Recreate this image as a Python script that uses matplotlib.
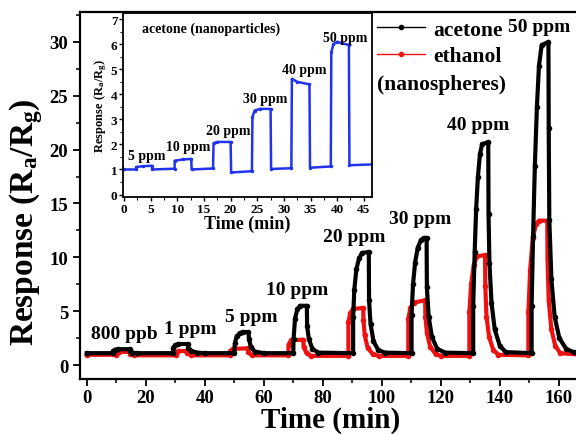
import matplotlib
matplotlib.use('Agg')
import matplotlib.pyplot as plt
from matplotlib.lines import Line2D
from matplotlib.ticker import MultipleLocator

plt.rcParams['font.family'] = ['Liberation Serif', 'DejaVu Serif']
plt.rcParams['font.weight'] = 'bold'
plt.rcParams['mathtext.fontset'] = 'custom'
plt.rcParams['mathtext.rm'] = 'Liberation Serif:bold'
plt.rcParams['mathtext.it'] = 'Liberation Serif:bold'
plt.rcParams['mathtext.bf'] = 'Liberation Serif:bold'

# acetone (nanospheres), black
acetone_t = [0, 8.9, 8.9, 9.6, 10.5, 14.5, 14.7, 15.5, 17,
             29.3, 29.3, 30.0, 31.0, 34.2, 34.4, 35.5, 37.5, 40,
             50.0, 50.2, 50.8, 51.8, 52.8, 54.8, 55.0, 55.6, 56.9, 60,
             70.0, 70.1, 70.6, 71.4, 72.3, 74.6, 74.7, 75.3, 76.5, 78.5,
             90.3, 90.3, 90.7, 91.4, 92.3, 93.3, 95.6, 95.7, 96.2, 97.2, 98.8, 101,
             110.1, 110.1, 110.6, 111.3, 112.2, 113.3, 114.2, 115.2, 115.3, 115.9, 117.0, 118.8, 121.5,
             131.0, 131.0, 131.5, 132.0, 132.6, 133.3, 134.0, 136.1, 136.2, 136.5, 137.2, 138.3, 140.0, 142.0,
             150.8, 150.8, 151.3, 151.9, 152.6, 153.3, 154.2, 156.5, 156.6, 156.8, 157.5, 158.6, 160.2, 162.5, 165, 168]
acetone_r = [1.1, 1.1, 1.3, 1.42, 1.47, 1.47, 1.3, 1.15, 1.1,
             1.1, 1.6, 1.85, 1.95, 1.95, 1.6, 1.3, 1.15, 1.1,
             1.1, 2.0, 2.65, 2.95, 3.06, 3.06, 2.4, 1.7, 1.25, 1.1,
             1.1, 2.4, 4.3, 5.2, 5.5, 5.5, 3.6, 2.4, 1.5, 1.15,
             1.1, 4.5, 7.0, 8.9, 9.9, 10.4, 10.5, 6.0, 3.8, 2.2, 1.4, 1.15,
             1.1, 4.6, 7.5, 9.5, 10.9, 11.6, 11.8, 11.8, 7.2, 4.5, 2.6, 1.5, 1.15,
             1.1, 5.5, 10.5, 14.5, 17.5, 19.6, 20.5, 20.7, 14.0, 9.5, 5.8, 3.3, 1.8, 1.2,
             1.1, 5.5, 12.0, 18.5, 24.0, 27.8, 29.7, 30.0, 22.0, 13.5, 8.0, 4.5, 2.5, 1.5, 1.2, 1.1]

# ethanol (nanospheres), red
ethanol_t = [0, 10.0, 10.1, 11, 14.5, 14.7, 16,
             30.3, 30.4, 31, 33.8, 34.0, 35.5,
             48.6, 48.7, 49.5, 54.5, 54.7, 56,
             68.3, 68.4, 69.3, 73.4, 73.5, 74.5, 76,
             88.7, 88.7, 89.3, 90.2, 93.7, 93.8, 94.2, 95.2, 97, 99,
             109.0, 109.0, 109.7, 110.8, 114.7, 114.8, 115.3, 116.4, 118.3, 120,
             129.7, 129.7, 130.3, 131.2, 132.3, 135.0, 135.1, 135.5, 136.4, 137.8, 139.5,
             149.7, 149.7, 150.3, 151.2, 152.3, 153.3, 156.1, 156.2, 156.6, 157.5, 158.8, 160.5, 168]
ethanol_r = [0.95, 0.95, 1.15, 1.22, 1.22, 1.05, 0.9,
             0.9, 1.15, 1.3, 1.3, 1.1, 0.9,
             0.9, 1.3, 1.5, 1.55, 1.2, 0.9,
             0.9, 1.9, 2.3, 2.35, 1.7, 1.1, 0.85,
             0.85, 4.0, 4.8, 5.2, 5.3, 4.2, 2.8, 1.6, 1.0, 0.85,
             0.85, 4.3, 5.3, 5.8, 6.0, 4.5, 3.0, 1.7, 1.0, 0.85,
             0.85, 4.9, 7.5, 9.3, 10.1, 10.2, 7.3, 4.5, 2.6, 1.4, 0.95,
             0.9, 4.9, 8.8, 11.8, 13.1, 13.4, 13.4, 9.8, 6.0, 3.3, 1.8, 1.1, 0.95]

main_labels = ['800 ppb', '1 ppm', '5 ppm', '10 ppm', '20 ppm', '30 ppm', '40 ppm', '50 ppm']
main_label_t = [12.6, 35, 55.7, 71.3, 90.6, 113, 132.6, 153.3]
main_label_r = [2.9, 3.35, 4.55, 7.05, 11.9, 13.65, 22.3, 31.4]

# inset: acetone (nanoparticles), blue
inset_t = [0, 2.3, 2.3, 3.5, 5.2, 5.3, 9.5, 9.5, 11, 12.6, 12.7, 16.7, 16.8, 17.5, 20.0, 20.1,
           24.0, 24.1, 24.5, 25.5, 27.5, 27.6, 31.4, 31.5, 32.5, 34.8, 34.9, 38.8, 38.9, 39.3,
           40, 42.2, 42.3, 46.5]
inset_r = [1.0, 1.0, 1.1, 1.13, 1.15, 1.0, 1.03, 1.35, 1.4, 1.42, 1.0, 1.04, 2.05, 2.1, 2.1, 0.88,
           0.93, 3.1, 3.35, 3.42, 3.42, 1.02, 1.05, 4.62, 4.5, 4.4, 1.07, 1.12, 5.7, 6.0,
           6.1, 5.97, 1.17, 1.2]

inset_labels = ['5 ppm', '10 ppm', '20 ppm', '30 ppm', '40 ppm', '50 ppm']
inset_label_t = [4.35, 12, 19.5, 26.4, 33.8, 41.5]
inset_label_r = [1.55, 1.9, 2.54, 3.85, 5.0, 6.27]

red = '#ee1111'
blue = '#2233ee'

fig = plt.figure(figsize=(5.76, 4.35), dpi=100)
ax = fig.add_axes([0.139, 0.1264, 0.871, 0.8437])

ax.plot(ethanol_t, ethanol_r, color=red, linewidth=3, marker='o', markersize=3)
ax.plot(acetone_t, acetone_r, color='black', linewidth=3, marker='o', markersize=3)

for lab, t, r in zip(main_labels, main_label_t, main_label_r):
    ax.text(t, r, lab, ha='center', va='center', fontsize=14, fontweight='bold')

ax.set_xlim(-2.27, 167.8)
ax.set_ylim(-1.3, 32.78)
ax.xaxis.set_major_locator(MultipleLocator(20))
ax.xaxis.set_minor_locator(MultipleLocator(10))
ax.yaxis.set_major_locator(MultipleLocator(5))
ax.yaxis.set_minor_locator(MultipleLocator(2.5))
ax.tick_params(which='major', direction='out', length=5, width=1.3, labelsize=13.5)
ax.tick_params(axis='x', which='major', pad=2)
ax.tick_params(which='minor', direction='out', length=3, width=1.1)
for s in ax.spines.values():
    s.set_linewidth(1.6)
ax.set_xlabel('Time (min)', fontsize=21, fontweight='bold', labelpad=0)
ax.set_ylabel('Response (R$_\\mathregular{a}$/R$_\\mathregular{g}$)', fontsize=24,
              fontweight='bold')
ax.yaxis.set_label_coords(-0.07, 0.43)

handles = [Line2D([], [], color='black', linewidth=1, marker='o', markersize=3),
           Line2D([], [], color=red, linewidth=1, marker='o', markersize=3)]
ax.legend(handles, ['acetone', 'ethanol'], loc='upper left', bbox_to_anchor=(0.655, 0.953),
          bbox_transform=fig.transFigure, frameon=False, fontsize=15.5, handlelength=2.2,
          handletextpad=0.4, labelspacing=0.3, borderaxespad=0, borderpad=0)
fig.text(0.655, 0.805, '(nanospheres)', ha='left', va='center', fontsize=15.5, fontweight='bold')

# inset
axi = fig.add_axes([0.2135, 0.5448, 0.432, 0.423])
axi.plot(inset_t, inset_r, color=blue, linewidth=1.8, marker='o', markersize=1.5)
for lab, t, r in zip(inset_labels, inset_label_t, inset_label_r):
    axi.text(t, r, lab, ha='center', va='center', fontsize=10, fontweight='bold')
axi.text(16.3, 6.63, 'acetone (nanoparticles)', ha='center', va='center', fontsize=10, fontweight='bold')
axi.set_xlim(-0.2, 46.5)
axi.set_ylim(-0.1, 7.25)
axi.xaxis.set_major_locator(MultipleLocator(5))
axi.xaxis.set_minor_locator(MultipleLocator(2.5))
axi.yaxis.set_major_locator(MultipleLocator(1))
axi.yaxis.set_minor_locator(MultipleLocator(0.5))
axi.tick_params(which='major', direction='out', length=3, width=1, labelsize=9.5, pad=1)
axi.tick_params(which='minor', direction='out', length=2, width=0.8)
for s in axi.spines.values():
    s.set_linewidth(1.3)
axi.set_xlabel('Time (min)', fontsize=13, fontweight='bold', labelpad=0)
axi.set_ylabel('Response (R$_\\mathregular{a}$/R$_\\mathregular{g}$)', fontsize=9,
               fontweight='bold', labelpad=1)

fig.savefig('out.png', dpi=100)
